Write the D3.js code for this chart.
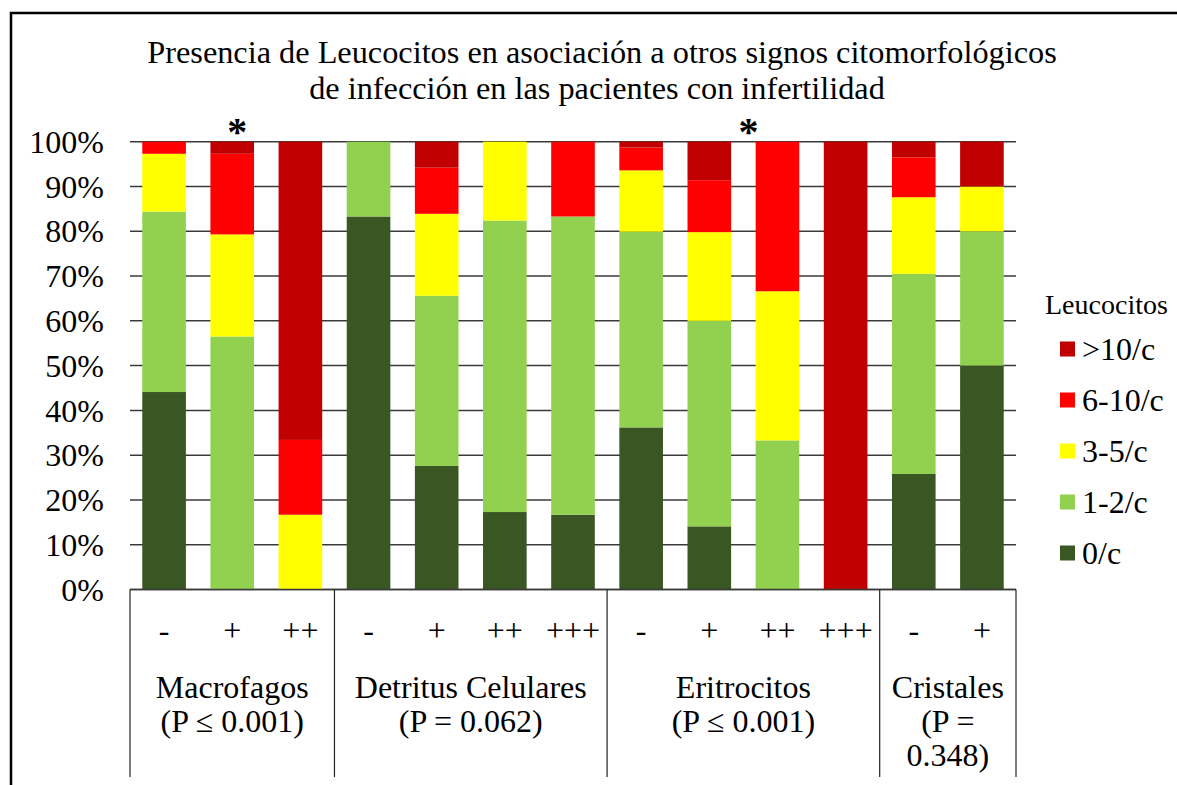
<!DOCTYPE html>
<html lang="es">
<head>
<meta charset="UTF-8">
<script src="https://d3js.org/d3.v7.min.js"></script>
<style>
  body { margin: 0; background: #fff; }
</style>
</head>
<body>
<div id="chart"></div>
<script>
// bars (left to right) and the group each one belongs to
const barLabels = ["-", "+", "++", "-", "+", "++", "+++", "-", "+", "++", "+++", "-", "+"];
const barGroups = [0, 0, 0, 1, 1, 1, 1, 2, 2, 2, 2, 3, 3];
const groupNames = [
  ["Macrofagos", "(P \u2264 0.001)"],
  ["Detritus Celulares", "(P = 0.062)"],
  ["Eritrocitos", "(P \u2264 0.001)"],
  ["Cristales", "(P =", "0.348)"]
];
const starGroups = [0, 2];

// leucocyte classes, bottom to top (percent of each bar)
const seriesNames = ["0/c", "1-2/c", "3-5/c", "6-10/c", ">10/c"];
const seriesColors = ["#3a5623", "#92d050", "#ffff00", "#ff0000", "#c00000"];
const v0 = [44.1, 0, 0, 83.3, 27.6, 17.3, 16.7, 36.2, 14.1, 0, 0, 25.8, 50];
const v1 = [40.3, 56.5, 0, 16.7, 38.0, 65.1, 66.6, 43.7, 45.9, 33.3, 0, 44.7, 30];
const v2 = [12.9, 22.8, 16.7, 0, 18.3, 17.6, 0, 13.7, 19.8, 33.3, 0, 17.1, 10];
const v3 = [2.7, 18.0, 16.7, 0, 10.3, 0, 16.7, 5.1, 11.6, 33.4, 0, 8.9, 0];
const v4 = [0, 2.7, 66.6, 0, 5.8, 0, 0, 1.3, 8.6, 0, 100, 3.5, 10];
const yTicks = [0, 10, 20, 30, 40, 50, 60, 70, 80, 90, 100];

const w = 1177, h = 785;
const padL = 130, padR = 1016, plotTop = 141.7, plotBottom = 589.5;
const boxBottom = 777;
const serif = "'Liberation Serif', Tinos, 'DejaVu Serif', serif";

const svg = d3.select("#chart").append("svg")
  .attr("width", w).attr("height", h)
  .attr("font-family", serif);

// frame
svg.append("path")
  .attr("d", "M11,785 V13 H1177")
  .attr("fill", "none").attr("stroke", "#000").attr("stroke-width", 2.5);

// title
svg.append("text").attr("x", 602).attr("y", 63).attr("text-anchor", "middle")
  .attr("font-size", 32.3)
  .text("Presencia de Leucocitos en asociación a otros signos citomorfológicos");
svg.append("text").attr("x", 597).attr("y", 99).attr("text-anchor", "middle")
  .attr("font-size", 32.3)
  .text("de infección en las pacientes con infertilidad");

const idx = d3.range(barLabels.length);
const x = d3.scaleBand().domain(idx).range([padL, padR]).paddingInner(0.36).paddingOuter(0.18);
const y = d3.scaleLinear().domain([0, 100]).range([plotBottom, plotTop]);

// gridlines
svg.append("g").selectAll("line").data(yTicks).join("line")
  .attr("x1", padL).attr("x2", padR)
  .attr("y1", d => y(d)).attr("y2", d => y(d))
  .attr("stroke", "#3a3a3a").attr("stroke-width", 1.5);

// y labels
svg.append("g").selectAll("text").data(yTicks).join("text")
  .attr("x", padL - 26).attr("y", d => y(d)).attr("dy", "0.35em")
  .attr("text-anchor", "end").attr("font-size", 32)
  .text(d => d + "%");

// stacked bars
const table = idx.map(i => ({ i: i, s0: v0[i], s1: v1[i], s2: v2[i], s3: v3[i], s4: v4[i] }));
const stack = d3.stack().keys(["s0", "s1", "s2", "s3", "s4"])(table);
svg.append("g").selectAll("g").data(stack).join("g")
  .attr("fill", (d, k) => seriesColors[k])
  .selectAll("rect").data(d => d).join("rect")
  .attr("x", d => x(d.data.i))
  .attr("width", x.bandwidth())
  .attr("y", d => y(d[1]))
  .attr("height", d => y(d[0]) - y(d[1]));

// category box under the bars
const half = x.step() * x.paddingInner() / 2;
const groupEdges = [];
groupNames.forEach((g, gi) => {
  const members = idx.filter(i => barGroups[i] === gi);
  groupEdges.push([x(members[0]) - half, x(members[members.length - 1]) + x.bandwidth() + half]);
});
svg.append("line").attr("x1", padL).attr("x2", padR).attr("y1", plotBottom).attr("y2", plotBottom)
  .attr("stroke", "#3a3a3a").attr("stroke-width", 1.5);
const edgeXs = [groupEdges[0][0]].concat(groupEdges.map(e => e[1]));
svg.append("g").selectAll("line").data(edgeXs).join("line")
  .attr("x1", d => d).attr("x2", d => d)
  .attr("y1", plotBottom).attr("y2", boxBottom)
  .attr("stroke", "#222").attr("stroke-width", 1.2);

svg.append("g").selectAll("text").data(idx).join("text")
  .attr("x", i => x(i) + x.bandwidth() / 2).attr("y", 641)
  .attr("text-anchor", "middle").attr("font-size", 32)
  .text(i => barLabels[i]);

groupNames.forEach((lines, gi) => {
  const cx = (groupEdges[gi][0] + groupEdges[gi][1]) / 2;
  lines.forEach((t, li) => {
    svg.append("text").attr("x", cx).attr("y", 698 + li * 34)
      .attr("text-anchor", "middle").attr("font-size", 32).text(t);
  });
});

// significance marks
svg.append("g").selectAll("text").data(starGroups).join("text")
  .attr("x", gi => (groupEdges[gi][0] + groupEdges[gi][1]) / 2 + 5)
  .attr("y", 145)
  .attr("text-anchor", "middle").attr("font-size", 40).attr("font-weight", "bold")
  .text("*");

// legend
svg.append("text").attr("x", 1045).attr("y", 314).attr("font-size", 28).text("Leucocitos");
const legendOrder = [4, 3, 2, 1, 0];
const lg = svg.append("g").selectAll("g").data(legendOrder).join("g")
  .attr("transform", (k, j) => "translate(1060," + (349 + j * 51) + ")");
lg.append("rect").attr("x", 0).attr("y", -7.5).attr("width", 15).attr("height", 15)
  .attr("fill", k => seriesColors[k]);
lg.append("text").attr("x", 22).attr("y", 0).attr("dy", "0.35em")
  .attr("font-size", 32).text(k => seriesNames[k]);
</script>
</body>
</html>
